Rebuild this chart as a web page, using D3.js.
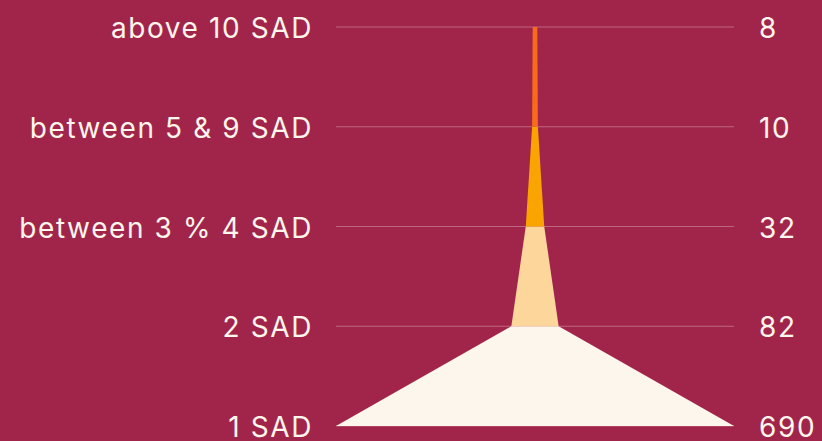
<!DOCTYPE html>
<html>
<head>
<meta charset="utf-8">
<script src="https://cdn.jsdelivr.net/npm/d3@7"></script>
<style>
  html, body { margin: 0; padding: 0; background: #a1254a; }
  svg { display: block; }
  text { font-family: Inter, "Open Sans", sans-serif; fill: #fdf6ec; font-size: 28px; letter-spacing: 1.6px; }
</style>
</head>
<body>
<div id="chart"></div>
<script>
// bottom to top
var categories = ['1 SAD', '2 SAD', 'between 3 % 4 SAD', 'between 5 & 9 SAD', 'above 10 SAD']
var counts = [690, 82, 32, 10, 8]
var segColors = ['#fdf6ec', '#fdd69b', '#f9a400', '#f86b1a']

var width = 822
var height = 441
var cx = 535

var svg = d3.select('#chart').append('svg')
  .attr('width', width)
  .attr('height', height)

var y = d3.scalePoint()
  .domain(categories)
  .range([426, 27])

var half = d3.scaleLinear()
  .domain([0, d3.max(counts)])
  .range([0, 199])

// grid lines
svg.append('g').selectAll('line')
  .data(categories)
  .enter().append('line')
  .attr('x1', cx - half(d3.max(counts)))
  .attr('x2', cx + half(d3.max(counts)))
  .attr('y1', d => y(d))
  .attr('y2', d => y(d))
  .attr('stroke', 'rgba(255,255,255,0.3)')
  .attr('stroke-width', 1)

var area = d3.area()
  .x0(d => cx - half(d.v))
  .x1(d => cx + half(d.v))
  .y(d => y(d.c))

var segs = d3.range(categories.length - 1).map(function (i) {
  return [
    { c: categories[i], v: counts[i] },
    { c: categories[i + 1], v: counts[i + 1] }
  ]
})

svg.append('g').selectAll('path')
  .data(segs)
  .enter().append('path')
  .attr('d', area)
  .attr('fill', (d, i) => segColors[i])

// left labels
svg.append('g').selectAll('text')
  .data(categories)
  .enter().append('text')
  .attr('x', 313)
  .attr('y', d => y(d))
  .attr('dy', '0.4em')
  .attr('text-anchor', 'end')
  .text(d => d)

// right values
svg.append('g').selectAll('text')
  .data(counts)
  .enter().append('text')
  .attr('x', 759)
  .attr('y', (d, i) => y(categories[i]))
  .attr('dy', '0.4em')
  .text(d => d)
</script>
</body>
</html>
